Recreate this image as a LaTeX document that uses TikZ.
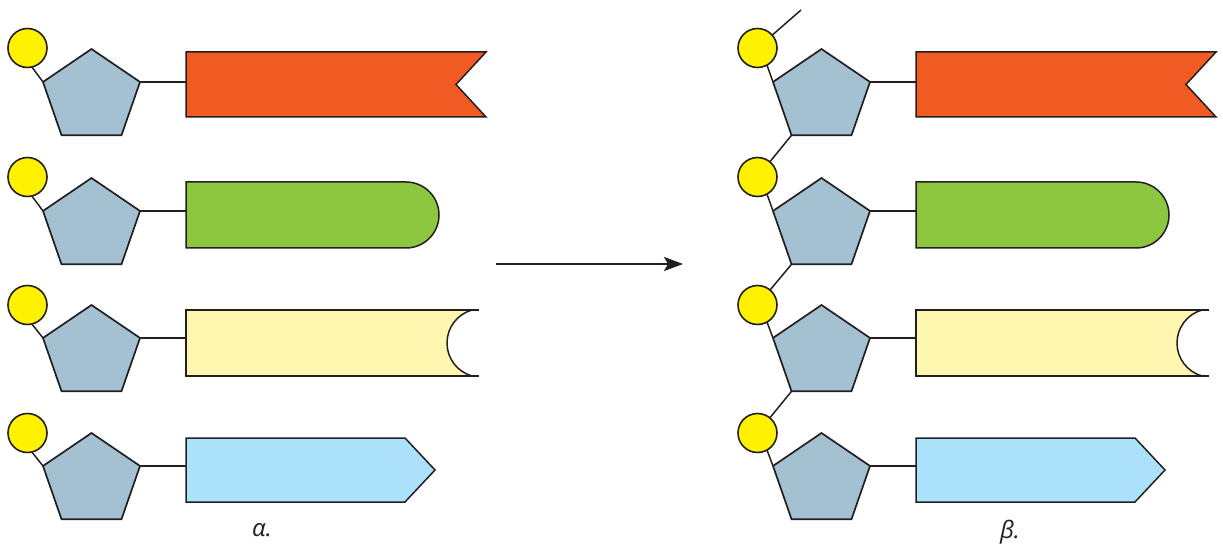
\documentclass[tikz,border=0pt]{standalone}
\usepackage{fontspec}
\setmainfont{Open Sans}
\usetikzlibrary{shapes.geometric,arrows.meta}
\definecolor{ink}{HTML}{231F20}
\definecolor{penta}{HTML}{A3C1D1}
\definecolor{sun}{HTML}{FFF200}
\definecolor{ribred}{HTML}{F15A22}
\definecolor{ribgreen}{HTML}{8DC63F}
\definecolor{ribyellow}{HTML}{FFF6B0}
\definecolor{ribblue}{HTML}{ABE1FA}
\tikzset{
  x=1pt,y=-1pt,
  link/.style={draw=ink,line width=1.5pt},
  sugar/.style={regular polygon,regular polygon sides=5,minimum size=102pt,inner sep=0pt,outer sep=0pt,
    draw=ink,line width=1.7pt,fill=penta,yscale=.935,transform shape,line join=miter},
  base/.style={circle,minimum size=39pt,inner sep=0pt,outer sep=0pt,draw=ink,line width=1.6pt,fill=sun},
  ribbon/.style={draw=ink,line width=1.5pt,line join=miter},
  lab/.style={font=\itshape\fontsize{24}{26}\selectfont,text=ink,inner sep=0pt},
  bigarrow/.style={draw=ink,line width=2.2pt,-{Stealth[length=19pt,width=14pt,inset=4pt]}}
}
\begin{document}
\begin{tikzpicture}
\useasboundingbox (0,0) rectangle (1223,545);
\foreach \s/\ox/\ca in {a/0/-77,b/730/-61}{
 \begin{scope}[shift={(\ox,0)}]
  % ribbons
  \coordinate (\s r1) at (186,84.5);
  \coordinate (\s r2) at (186,215);
  \coordinate (\s r3) at (186,343);
  \coordinate (\s r4) at (186,470);
  \draw[ribbon,fill=ribred] (186,52) -- (486,52) -- (456,84.5) -- (486,117) -- (186,117) -- cycle;
  \draw[ribbon,fill=ribgreen] (186,182) -- (406,182) .. controls (424.2,182) and (439,196.8) .. (439,215)
     .. controls (439,233.2) and (424.2,248) .. (406,248) -- (186,248) -- cycle;
  \fill[ribyellow] (186,310) -- (472,310) .. controls (457.2,314.2) and (447,327.6) .. (447,343)
     .. controls (447,358.4) and (457.2,371.8) .. (472,376) -- (186,376) -- cycle;
  \draw[ribbon] (479,310) -- (186,310) -- (186,376) -- (479,376);
  \draw[ribbon] (472,310) .. controls (457.2,314.2) and (447,327.6) .. (447,343)
     .. controls (447,358.4) and (457.2,371.8) .. (472,376);
  \draw[ribbon,fill=ribblue] (186,438) -- (405,438) -- (435,470) -- (405,502) -- (186,502) -- cycle;
  % sugars and bases
  \foreach \r/\py/\cy in {1/96.7/48,2/225.7/177,3/352.7/305,4/480.7/433}{
    \node[sugar] (\s p\r) at (91.5,\py) {};
    \node[base] (\s c\r) at (27.5,\cy) {};
    \draw[link] (\s c\r.\ca) -- (\s p\r.corner 2);
    \draw[link] (\s p\r.corner 5) -- (\s p\r.corner 5 -| \s r\r);
  }
 \end{scope}
}
\coordinate (stub) at (801,10);
\draw[link] (bc1) -- (stub);
\draw[link] (bp1.corner 3) -- (bc2);
\draw[link] (bp2.corner 3) -- (bc3);
\draw[link] (bp3.corner 3) -- (bc4);
\coordinate (arrowstart) at (496,264);
\coordinate (arrowend) at (683,264);
\draw[bigarrow] (arrowstart) -- (arrowend);
\node[lab] (alpha) at (262,530) {α.};
\node[lab] (beta) at (1010,532) {β.};
\end{tikzpicture}
\end{document}
